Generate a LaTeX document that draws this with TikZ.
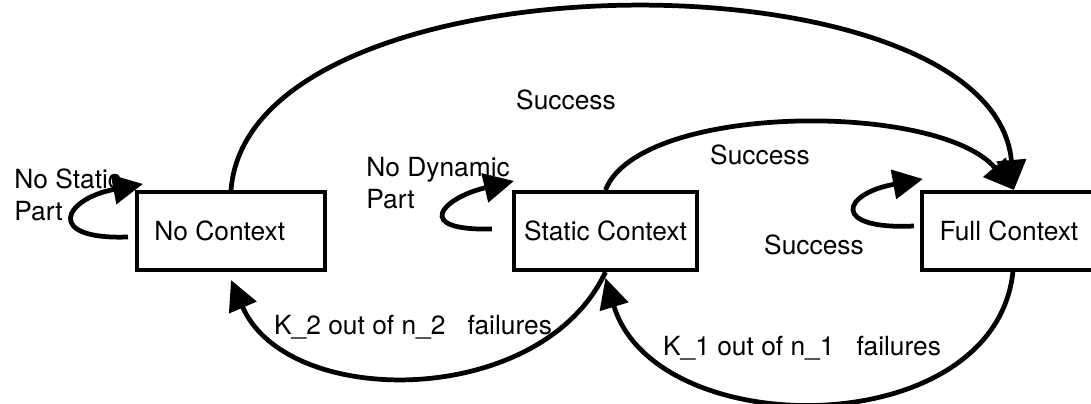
\documentclass[tikz,border=0pt]{standalone}
\usepackage{fontspec}
\setmainfont{TeX Gyre Heros}
\usetikzlibrary{arrows.meta, calc, positioning}

\begin{document}
\begin{tikzpicture}[x=0.02cm, y=-0.02cm, statestyle/.style = {rectangle, draw, line width=2.3pt, align=center, minimum height=1.56cm}, edgestyle/.style = {line width=2.7pt, -{Triangle[length=0.6cm, width=0.58cm]}}, labelstyle/.style={draw=none, align=left, inner sep=0pt}]
  \tikzstyle{every node}=[font=\fontsize{15}{18}\selectfont]
  \useasboundingbox (0,0) rectangle (1091,404);

  % states
  \node[statestyle, minimum width=3.76cm] (nocontext) at (231,231) {\hspace*{-0.45cm}No Context};
  \node[statestyle, minimum width=3.66cm, right=3.7cm of nocontext] (static) {Static Context};
  \node[statestyle, minimum width=3.48cm, right=4.42cm of static] (full) {Full Context};

  % labels
  \node[labelstyle] (succ_top) at (566,100) {Success};
  \node[labelstyle] (succ_mid) at (760,155) {Success};
  \node[labelstyle] (succ_loop) at (814,245) {Success};
  \node[labelstyle, anchor=west] (nostatic) at (14,195) {No Static\\Part};
  \node[labelstyle, anchor=west] (nodynamic) at (366,183) {No Dynamic\\Part};
  \node[labelstyle] (fail_two) at (413,327) {K\_2 out of n\_2 \ \ failures};
  \node[labelstyle] (fail_one) at (802,348) {K\_1 out of n\_1 \ \ failures};

  % success arcs
  \draw[edgestyle] (nocontext.north) .. controls +(19,-241) and +(-21,-242) .. ([xshift=0.1cm]full.north);
  \draw[edgestyle] (static.north) .. controls +(34,-87) and +(-76,-89) .. ([xshift=0.1cm]full.north);

  % self loops
  \draw[edgestyle] ($(nocontext.west)+(-7,6)$) .. controls +(-84,3) and +(-80,15) .. ($(nocontext.north west)+(8,-6)$);
  \draw[edgestyle] ($(static.west)+(-20,-2)$) .. controls +(-80,2) and +(-72,17) .. ($(static.north west)+(2,-9)$);
  \draw[edgestyle] ($(full.west)+(-6,-5)$) .. controls +(-83,4) and +(-82,15) .. ($(full.north west)+(3,-11)$);

  % failure arcs
  \draw[edgestyle] (static.south) .. controls +(-64,137) and +(56,130) .. ($(nocontext.south)+(0,8)$);
  \draw[edgestyle] ([xshift=0.08cm]full.south) .. controls +(-19,172) and +(50,166) .. ($(static.south)+(0,6)$);

\end{tikzpicture}
\end{document}
